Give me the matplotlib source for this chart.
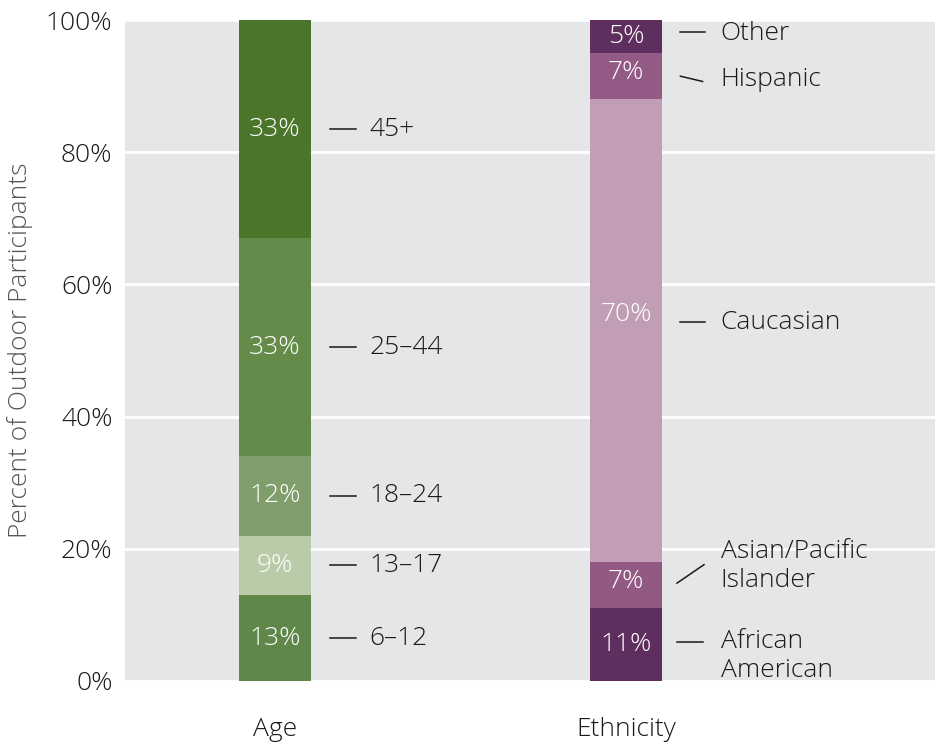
import numpy as np
import matplotlib.pyplot as plt

# data
age_groups = ["6\u201312", "13\u201317", "18\u201324", "25\u201344", "45+"]
age_pct = [13, 9, 12, 33, 33]
age_colors = ["#5f874a", "#b9cba9", "#7f9e6c", "#658b4a", "#4a752b"]

eth_groups = ["African\nAmerican", "Asian/Pacific\nIslander", "Caucasian", "Hispanic", "Other"]
eth_pct = [11, 7, 70, 7, 5]
eth_colors = ["#5e2e5e", "#925a82", "#c19eb5", "#935a85", "#5e2e5e"]

categories = ["Age", "Ethnicity"]
yticks = [0, 20, 40, 60, 80, 100]

plt.rcParams['font.family'] = ['Open Sans', 'DejaVu Sans']
FW = "light"
FS = 19

fig = plt.figure(figsize=(9.35, 7.45), dpi=100)
ax = fig.add_axes([125 / 935, 64 / 745, 810 / 935, 661 / 745])
ax.set_facecolor("#e5e6e8")

bar_w = 0.205
# label offsets (layout only) for the ethnicity side
eth_label_dy = [-1.7, 2.9, 1.3, -0.5, 0.5]
eth_pct_dy = [0, 0.5, 2.5, 0.5, 0.0]

def draw_stack(x, values, colors, names, label_dy, pct_dy):
    bottom = 0
    for i, (v, c, n) in enumerate(zip(values, colors, names)):
        ax.bar(x, v, bottom=bottom, width=bar_w, color=c, zorder=2)
        mid = bottom + v / 2
        ax.text(x, mid + pct_dy[i], f"{v}%", ha="center", va="center",
                color="white", fontsize=FS, fontweight=FW, zorder=3)
        ly = mid + label_dy[i]
        ax.text(x + 0.27, ly, n, ha="left", va="center", color="#1a1a1a",
                fontsize=FS, fontweight=FW, linespacing=1.22, zorder=3)
        bottom += v

draw_stack(0, age_pct, age_colors, age_groups, [0] * 5, [0] * 5)
draw_stack(1, eth_pct, eth_colors, eth_groups, eth_label_dy, eth_pct_dy)

# leader lines
age_mids = np.cumsum(age_pct) - np.array(age_pct) / 2
for m in age_mids:
    ax.plot([0.157, 0.231], [m, m], color="#1a1a1a", lw=1.1, zorder=3)
eth_mids = np.cumsum(eth_pct) - np.array(eth_pct) / 2
eth_lines = [
    ((1.145, 1.218), (eth_mids[0] + 0.4, eth_mids[0] + 0.4)),
    ((1.145, 1.222), (eth_mids[1] + 0.3, eth_mids[1] + 3.1)),
    ((1.155, 1.225), (eth_mids[2] + 1.3, eth_mids[2] + 1.3)),
    ((1.155, 1.218), (eth_mids[3] + 0.0, eth_mids[3] - 0.8)),
    ((1.155, 1.225), (eth_mids[4] + 0.7, eth_mids[4] + 0.7)),
]
for xs, ys in eth_lines:
    ax.plot(xs, ys, color="#1a1a1a", lw=1.1, zorder=3)

ax.set_xlim(-0.427, 1.880)
ax.set_ylim(0, 100)
ax.set_yticks(yticks)
ax.set_yticklabels([f"{t}%" for t in yticks], fontsize=FS, fontweight=FW, color="#1a1a1a")
ax.set_xticks([0, 1])
ax.set_xticklabels(categories, fontsize=FS, fontweight=FW, color="#1a1a1a")
ax.tick_params(axis="both", length=0)
ax.tick_params(axis="x", pad=26)
ax.tick_params(axis="y", pad=9)
ax.grid(axis="y", color="white", lw=2, zorder=1)
ax.set_axisbelow(True)
for s in ax.spines.values():
    s.set_visible(False)

ax.set_ylabel("Percent of Outdoor Participants", fontsize=FS, fontweight=FW,
              color="#555555", labelpad=9)

fig.savefig("out.png", dpi=100)
